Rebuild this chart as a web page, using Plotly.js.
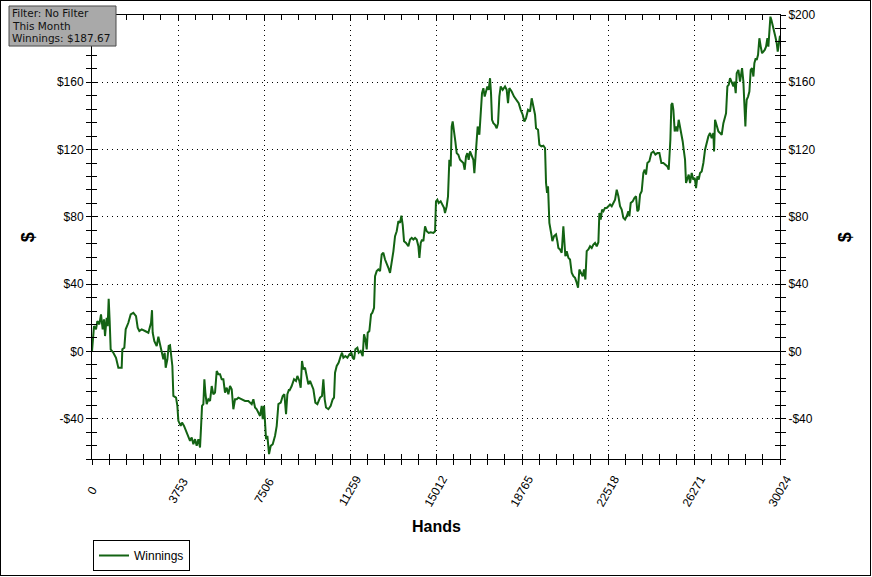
<!DOCTYPE html>
<html>
<head>
<meta charset="utf-8">
<script src="https://cdn.plot.ly/plotly-3.0.1.min.js"></script>
<style>
html,body{margin:0;padding:0;background:#fff;}
#frame{position:absolute;left:0;top:0;width:871px;height:576px;box-sizing:border-box;border:1px solid #000;background:#fff;}
#chart{width:869px;height:574px;}
</style>
</head>
<body>
<div id="frame"><div id="chart"></div></div>
<script>
// ---- data ----
const hands = [0,88,175,233,320,393,466,524,568,640,684,728,771,815,931,1048,1150,1295,1324,1411,1470,1586,1688,1805,1921,1994,2066,2168,2314,2459,2576,2619,2648,2721,2823,2896,2968,3041,3114,3172,3216,3289,3347,3405,3449,3507,3551,3667,3725,3769,3871,3929,4016,4103,4205,4278,4351,4424,4496,4569,4642,4714,4758,4802,4860,4904,4947,5005,5078,5151,5224,5296,5369,5442,5515,5587,5660,5733,5805,5878,5951,6024,6097,6169,6242,6315,6388,6533,6678,6824,6970,7042,7115,7188,7260,7333,7406,7450,7508,7552,7595,7653,7726,7799,7886,7988,8061,8134,8236,8323,8395,8468,8526,8599,
8612,8714,8816,8903,8962,9049,9107,9165,9224,9296,9369,9442,9515,9587,9660,9747,9835,9951,10038,10097,10155,10213,10315,10417,10504,10562,10606,10679,10766,10853,10911,10970,11057,11144,11231,11319,11377,11435,11493,11581,11639,11726,11813,11871,11930,11988,12032,12104,12177,12235,12308,12352,12424,12497,12570,12643,12715,12788,12861,12933,13006,13079,13152,13225,13297,13370,13443,13501,13559,13617,13705,13807,13879,13952,14025,14098,14170,14243,14287,14345,14403,14461,14534,14607,14694,14781,14898,14971,14990,
15012,15071,15129,15216,15274,15362,15405,15478,15536,15594,15653,15696,15740,15798,15856,15915,15987,16060,16133,16206,16264,16322,16380,16438,16497,16569,16642,16686,16729,16788,16831,16904,16962,17020,17079,17137,17195,17253,17311,17370,17413,17457,17515,17588,17661,17719,17777,17835,17922,18024,18097,18155,18213,18315,18417,18534,18621,18708,18795,18868,18941,19028,19116,19188,19261,19334,19377,19465,19523,19610,19697,19770,19814,19858,19901,19959,20047,20090,20163,20250,20308,20352,20425,20497,20570,20614,20657,20716,20789,20861,20934,21007,21080,21152,21211,21269,21342,21414,21472,21531,21589,21662,21735,21807,21880,21953,22026,22098,22142,22200,22258,22317,22389,22462,22535,22607,22680,22753,22826,22899,22971,
23043,23116,23188,23261,23334,23406,23450,23508,23595,23668,23741,23799,23857,23916,23988,24061,24119,24177,24236,24323,24410,24498,24585,24672,24760,24847,24934,25021,25109,25167,25196,25240,25283,25327,25371,25429,25487,25545,25603,25662,25720,25778,25822,25880,25923,25982,26040,26098,26171,26244,26302,26360,26418,26477,26535,26607,26680,26753,26826,26898,26971,27044,27117,27146,27189,27262,27335,27408,27480,27553,27626,27669,27728,27786,27844,27917,27990,28033,28091,28135,28208,28280,28324,28368,28426,28470,28513,28542,28571,28630,28688,28746,28804,28863,28906,28964,29008,29066,29124,29183,29241,29299,29357,29415,29474,29517,29561,29605,29649,29707,29765,29823,29881,29925,29969,30012,30024];

const winnings = [0,15.0,13.1,18.0,16.0,22.0,13.1,19.0,9.1,20.0,15.0,31.3,18.0,1.2,-0.8,-3.8,-9.7,-9.7,1.2,2.2,13.1,17.0,22.0,22.9,21.0,14.1,12.1,13.1,12.1,11.1,17.0,24.5,11.1,6.1,3.2,8.7,4.2,0.2,-4.7,-0.8,-9.7,-4.7,3.2,3.6,-0.8,-8.7,-26.5,-27.5,-32.4,-41.3,-44.3,-42.3,-44.3,-47.3,-51.2,-53.2,-51.2,-55.2,-52.2,-56.2,-52.2,-57.2,-45.3,-32.4,-31.4,-16.6,-24.5,-31.4,-28.5,-29.5,-20.6,-25.5,-24.5,-11.7,-13.6,-13.6,-16.6,-16.6,-24.5,-21.6,-25.5,-20.6,-22.5,-34.4,-28.5,-28.5,-27.5,-28.5,-29.5,-29.5,-31.4,-28.5,-33.4,-34.4,-36.4,-38.4,-32.4,-40.3,-32.4,-42.3,-52.2,-50.2,-61.1,-56.2,-55.2,-50.2,-44.3,-31.4,-30.5,-26.5,-25.5,-37.4,-25.5,-22.5,
-23.5,-20.6,-16.6,-17.6,-14.6,-17.6,-21.6,-5.7,-10.7,-9.7,-14.6,-19.6,-17.6,-19.6,-22.5,-30.5,-31.4,-27.5,-26.5,-16.6,-28.5,-33.4,-34.4,-32.4,-28.5,-27.5,-12.7,-8.7,-6.7,-2.8,-0.8,-3.8,-2.8,-3.8,-1.8,-0.8,-3.8,-4.7,1.2,2.2,-0.8,0.2,-2.8,10.1,7.1,1.2,11.1,12.1,22.0,23.0,25.9,44.7,47.7,48.7,47.7,57.6,58.6,54.6,52.6,49.7,46.7,52.6,59.5,68.5,71.4,77.4,76.4,80.7,75.4,65.5,64.5,62.5,66.5,67.5,66.5,67.5,66.5,62.5,55.6,64.5,66.5,65.5,74.4,71.4,70.4,70.8,70.4,71.4,78.3,
89.2,90.2,88.2,89.2,87.3,85.3,82.3,86.3,92.2,113.9,110.0,133.7,136.7,131.8,124.8,117.9,116.9,113.9,113.0,112.0,108.0,115.9,117.9,113.9,118.9,116.9,113.9,106.0,115.9,122.9,133.7,128.8,143.6,153.5,156.5,151.5,154.5,157.5,155.5,162.4,153.5,137.7,135.7,134.7,132.7,135.7,151.5,157.5,155.5,157.5,155.5,147.6,156.5,154.5,151.5,149.6,147.6,143.6,140.7,136.7,138.7,143.6,142.6,150.5,145.6,140.7,132.7,131.8,122.9,121.9,122.3,120.9,100.1,94.2,98.1,76.4,69.5,65.5,68.5,69.5,65.5,61.5,60.6,58.6,74.4,65.5,56.6,59.6,55.6,54.6,46.7,44.7,43.7,40.8,37.8,48.7,46.7,44.7,48.7,42.7,59.6,60.6,62.5,61.5,63.5,64.5,62.5,64.9,82.3,78.3,84.3,83.3,85.3,85.3,86.3,87.3,86.3,88.2,90.2,96.1,92.2,
86.3,84.3,79.4,78.4,80.3,83.3,80.3,88.2,89.2,91.2,92.2,83.3,84.3,93.2,95.2,106.1,108.0,105.1,112.0,113.0,117.9,118.9,117.0,117.9,117.9,112.0,112.0,111.0,110.0,108.0,114.0,125.8,146.6,147.6,143.6,130.8,133.7,130.8,137.7,133.7,130.8,124.8,119.9,114.0,100.1,102.1,105.1,100.1,106.1,102.1,103.1,97.1,104.1,102.1,106.1,107.0,112.0,119.9,124.8,127.8,129.8,126.8,129.8,118.9,137.7,133.7,130.8,129.8,128.8,135.7,139.7,141.6,157.5,158.5,162.4,159.5,157.5,160.4,153.5,165.4,167.4,160.4,166.4,168.4,160.4,149.6,133.7,143.6,149.6,151.5,154.5,167.4,168.4,163.4,171.3,174.3,173.3,176.3,186.2,181.2,177.3,178.2,179.2,181.2,186.2,181.2,191.1,199.0,197.0,194.1,190.1,187.1,183.2,178.2,182.2,185.2,187.67];

const seriesName = 'Winnings';
const xMax = 30024;
const xStep = 3753;              // labelled hand ticks: 0, 3753, ... 30024
const yMin = -64, yMax = 200;
const yMajorVals = [-40, 0, 40, 80, 120, 160, 200];
const yMajorText = yMajorVals.map(v => (v < 0 ? '-$' + (-v) : '$' + v));
// the info box covers the top label on the left axis
const yLeftText = yMajorVals.map((v, i) => (v === yMax ? '' : yMajorText[i]));
const infoLines = ['Filter: No Filter', 'This Month', 'Winnings: $187.67'];
const xTitle = 'Hands';
const yTitle = '$';

// ---- styling ----
const FONT = 'Liberation Sans, Arial, sans-serif';
const INFO_FONT = 'DejaVu Sans, Verdana, sans-serif';
const tickFont = {family: FONT, size: 12, color: '#000'};
const black = '#000';
const DOTS = '1px,4px';
const W = 869, H = 574;
// plot area in page px: left 92, right 780, top 15, bottom 458.5
const PL = 92, PW = 688, PB = 458.5, PH = 443.5;
const px = p => (p - PL) / PW;   // page x -> paper
const py = p => (PB - p) / PH;   // page y -> paper

function xAx(extra) {
  return Object.assign({
    range: [0, xMax], tickmode: 'linear', tick0: 0, dtick: xStep, tickformat: 'd',
    ticklen: 5, tickcolor: black, tickwidth: 1, automargin: false,
    showgrid: false, zeroline: false, showline: true, linecolor: black, linewidth: 1,
    showticklabels: false, fixedrange: true,
    minor: {tick0: 0, dtick: xStep / 5, ticklen: 5, tickcolor: black, tickwidth: 1, showgrid: false}
  }, extra);
}
function yAx(extra) {
  return Object.assign({
    range: [yMin, yMax], tickmode: 'array', tickvals: yMajorVals, ticktext: yMajorText,
    ticklen: 5, tickcolor: black, tickwidth: 1, automargin: false,
    showgrid: false, zeroline: false, showline: true, linecolor: black, linewidth: 1,
    showticklabels: false, fixedrange: true,
    minor: {tickmode: 'linear', tick0: 0, dtick: 8, ticklen: 5, tickcolor: black, tickwidth: 1, showgrid: false}
  }, extra);
}

const xaxis = xAx({ticks: 'outside', showgrid: true, gridcolor: black, griddash: DOTS, gridwidth: 1});
xaxis.minor.ticks = 'outside';
const xaxis2 = xAx({overlaying: 'x', anchor: 'y', side: 'bottom', ticks: 'inside'});
xaxis2.minor.ticks = 'inside';
const xaxis3 = xAx({overlaying: 'x', anchor: 'y', side: 'top', ticks: 'inside'});
xaxis3.minor.ticks = 'inside';

const yaxis = yAx({
  ticks: 'outside', showticklabels: true, tickfont: tickFont, ticktext: yLeftText,
  showgrid: true, gridcolor: black, griddash: DOTS, gridwidth: 1,
  zeroline: true, zerolinecolor: black, zerolinewidth: 1
});
yaxis.minor.ticks = 'outside';
const yaxis2 = yAx({overlaying: 'y', anchor: 'x', side: 'left', ticks: 'inside'});
yaxis2.minor.ticks = 'inside';
const yaxis3 = yAx({
  overlaying: 'y', anchor: 'x', side: 'right', ticks: 'outside', showticklabels: true, tickfont: tickFont
});
yaxis3.minor.ticks = 'outside';
const yaxis4 = yAx({overlaying: 'y', anchor: 'x', side: 'right', ticks: 'inside'});
yaxis4.minor.ticks = 'inside';

const traces = [
  {x: hands, y: winnings, type: 'scatter', mode: 'lines', name: seriesName,
   line: {color: '#136313', width: 2}, hoverinfo: 'x+y'},
  {x: [], y: [], xaxis: 'x2', yaxis: 'y2', showlegend: false, hoverinfo: 'skip', mode: 'lines'},
  {x: [], y: [], xaxis: 'x3', yaxis: 'y3', showlegend: false, hoverinfo: 'skip', mode: 'lines'},
  {x: [], y: [], xaxis: 'x', yaxis: 'y4', showlegend: false, hoverinfo: 'skip', mode: 'lines'}
];

// rotated hand labels, centred under each labelled tick
const xTickVals = [];
for (let v = 0; v <= xMax; v += xStep) xTickVals.push(v);
const xLabelAnns = xTickVals.map(v => ({
  xref: 'x', yref: 'paper', x: v, y: py(490.5), xanchor: 'center', yanchor: 'middle',
  text: String(v), textangle: -60, showarrow: false, font: tickFont
}));

const xTitleAnn = {
  xref: 'paper', yref: 'paper', x: 0.5, y: py(526), xanchor: 'center', yanchor: 'middle',
  text: '<b>' + xTitle + '</b>', showarrow: false, font: {family: FONT, size: 16, color: black}
};

const yTitleAnns = [28, 845].map(xp => ({
  xref: 'paper', yref: 'paper', x: px(xp), y: py(237), xanchor: 'center', yanchor: 'middle',
  text: '<b>' + yTitle + '</b>', textangle: -90, showarrow: false,
  font: {family: FONT, size: 18, color: black}
}));

const infoAnnotations = infoLines.map((t, i) => ({
  xref: 'paper', yref: 'paper', x: px(10), y: py(13 + i * 12.7),
  xanchor: 'left', yanchor: 'middle',
  text: t, showarrow: false, align: 'left', font: {family: INFO_FONT, size: 10.5, color: '#111'}
}));

// page px (inside the 1px frame) -> container units
const cx = p => (p - 1) / W;
const cy = p => 1 - (p - 1) / H;

const layout = {
  width: W, height: H,
  margin: {l: 91, r: 90, t: 14, b: 116, pad: 0, autoexpand: false},
  paper_bgcolor: '#fff', plot_bgcolor: '#fff',
  font: {family: FONT, size: 12, color: black},
  xaxis, xaxis2, xaxis3, yaxis, yaxis2, yaxis3, yaxis4,
  showlegend: true,
  legend: {xref: 'container', yref: 'container', x: cx(93), y: cy(540), xanchor: 'left', yanchor: 'top',
           bordercolor: black, borderwidth: 1, bgcolor: '#fff', tracegroupgap: 0,
           font: {family: FONT, size: 12, color: black}, itemwidth: 30},
  shapes: [{
    type: 'rect', xref: 'paper', yref: 'paper', layer: 'above',
    x0: px(9), x1: px(116), y0: py(46), y1: py(6),
    fillcolor: '#a9a9a9', line: {color: '#4a4a4a', width: 1}
  }],
  annotations: xLabelAnns.concat([xTitleAnn], yTitleAnns, infoAnnotations)
};

Plotly.newPlot('chart', traces, layout, {displayModeBar: false, staticPlot: true});
</script>
</body>
</html>
